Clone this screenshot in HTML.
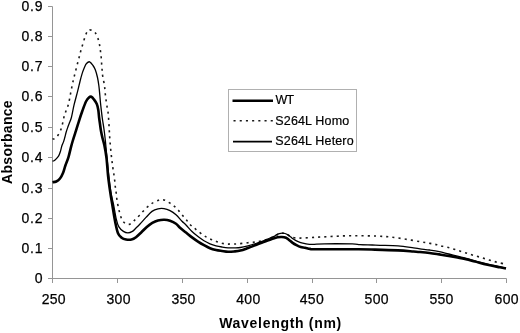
<!DOCTYPE html>
<html><head><meta charset="utf-8"><title>Absorbance spectra</title>
<style>
html,body{margin:0;padding:0;background:#fff;}
body{width:520px;height:333px;overflow:hidden;}
svg{display:block;}
.t{font-family:"Liberation Sans", Arial, sans-serif;font-size:14px;fill:#000;stroke:#000;stroke-width:0.25px;}
.b{font-family:"Liberation Sans", Arial, sans-serif;font-size:14px;font-weight:bold;fill:#000;}
.l{font-family:"Liberation Sans", Arial, sans-serif;font-size:12.5px;fill:#000;stroke:#000;stroke-width:0.2px;}
</style></head>
<body>
<svg width="520" height="333" viewBox="0 0 520 333">
<rect width="520" height="333" fill="#fff"/>
<path d="M52.5 6.5V282.5M48 278.5H506.5" stroke="#959595" stroke-width="1" fill="none"/>
<path d="M48 278.50H52.5M48 248.50H52.5M48 218.50H52.5M48 188.50H52.5M48 157.50H52.5M48 127.50H52.5M48 96.50H52.5M48 66.50H52.5M48 36.50H52.5M48 6.50H52.5M52.50 278.5V283M117.50 278.5V283M182.50 278.5V283M247.50 278.5V283M312.50 278.5V283M376.50 278.5V283M441.50 278.5V283M506.50 278.5V283" stroke="#959595" stroke-width="1" fill="none"/>
<path d="M52.50 139.00 C52.92 138.90 54.07 139.07 55.00 138.40 C55.93 137.73 57.13 136.45 58.10 135.00 C59.07 133.55 60.05 131.63 60.80 129.70 C61.55 127.77 62.07 125.52 62.60 123.40 C63.13 121.28 63.45 119.03 64.00 117.00 C64.55 114.97 65.15 113.37 65.90 111.20 C66.65 109.03 67.68 107.15 68.50 104.00 C69.32 100.85 70.02 96.20 70.80 92.30 C71.58 88.40 72.50 83.75 73.20 80.60 C73.90 77.45 74.28 76.25 75.00 73.40 C75.72 70.55 76.75 66.40 77.50 63.50 C78.25 60.60 78.88 58.37 79.50 56.00 C80.12 53.63 80.57 51.55 81.20 49.30 C81.83 47.05 82.60 44.78 83.30 42.50 C84.00 40.22 84.73 37.42 85.40 35.60 C86.07 33.78 86.65 32.55 87.30 31.60 C87.95 30.65 88.55 30.10 89.30 29.90 C90.05 29.70 90.80 29.92 91.80 30.40 C92.80 30.88 94.22 31.28 95.30 32.80 C96.38 34.32 97.55 37.25 98.30 39.50 C99.05 41.75 99.42 44.17 99.80 46.30 C100.18 48.43 100.35 50.30 100.60 52.30 C100.85 54.30 101.12 56.18 101.30 58.30 C101.48 60.42 101.55 62.88 101.70 65.00 C101.85 67.12 102.03 69.17 102.20 71.00 C102.37 72.83 102.32 73.50 102.70 76.00 C103.08 78.50 104.02 82.53 104.50 86.00 C104.98 89.47 105.15 93.18 105.60 96.80 C106.05 100.42 106.75 104.77 107.20 107.70 C107.65 110.63 107.97 110.88 108.30 114.40 C108.63 117.92 108.92 124.30 109.20 128.80 C109.48 133.30 109.63 136.83 110.00 141.40 C110.37 145.97 111.02 152.53 111.40 156.20 C111.78 159.87 112.03 161.30 112.30 163.40 C112.57 165.50 112.72 166.87 113.00 168.80 C113.28 170.73 113.70 172.90 114.00 175.00 C114.30 177.10 114.57 179.28 114.80 181.40 C115.03 183.52 115.17 185.77 115.40 187.70 C115.63 189.63 115.92 190.82 116.20 193.00 C116.48 195.18 116.65 198.00 117.10 200.80 C117.55 203.60 118.15 206.80 118.90 209.80 C119.65 212.80 120.55 216.55 121.60 218.80 C122.65 221.05 123.85 222.40 125.20 223.30 C126.55 224.20 128.20 224.65 129.70 224.20 C131.20 223.75 132.55 222.10 134.20 220.60 C135.85 219.10 137.63 217.27 139.60 215.20 C141.57 213.13 143.93 210.17 146.00 208.20 C148.07 206.23 149.90 204.72 152.00 203.40 C154.10 202.08 156.93 200.88 158.60 200.30 C160.27 199.72 160.90 199.88 162.00 199.90 C163.10 199.92 163.65 199.72 165.20 200.40 C166.75 201.08 169.38 202.67 171.30 204.00 C173.22 205.33 175.00 206.70 176.70 208.40 C178.40 210.10 179.90 212.30 181.50 214.20 C183.10 216.10 184.80 218.00 186.30 219.80 C187.80 221.60 188.95 223.43 190.50 225.00 C192.05 226.57 193.62 227.60 195.60 229.20 C197.58 230.80 200.30 233.13 202.40 234.60 C204.50 236.07 206.22 236.98 208.20 238.00 C210.18 239.02 212.28 239.90 214.30 240.70 C216.32 241.50 218.30 242.25 220.30 242.80 C222.30 243.35 224.30 243.80 226.30 244.00 C228.30 244.20 230.30 244.03 232.30 244.00 C234.30 243.97 235.68 244.02 238.30 243.80 C240.92 243.58 245.08 243.00 248.00 242.70 C250.92 242.40 253.22 242.38 255.80 242.00 C258.38 241.62 260.93 241.07 263.50 240.40 C266.07 239.73 269.28 238.73 271.20 238.00 C273.12 237.27 273.65 236.72 275.00 236.00 C276.35 235.28 278.12 234.17 279.30 233.70 C280.48 233.23 281.15 233.23 282.10 233.20 C283.05 233.17 284.02 233.20 285.00 233.50 C285.98 233.80 287.00 234.45 288.00 235.00 C289.00 235.55 289.93 236.33 291.00 236.80 C292.07 237.27 292.90 237.58 294.40 237.80 C295.90 238.02 296.50 238.18 300.00 238.10 C303.50 238.02 310.27 237.57 315.40 237.30 C320.53 237.03 325.67 236.75 330.80 236.50 C335.93 236.25 341.08 235.92 346.20 235.80 C351.32 235.68 356.38 235.75 361.50 235.80 C366.62 235.85 372.08 235.90 376.90 236.10 C381.72 236.30 385.58 236.48 390.40 237.00 C395.22 237.52 400.67 238.38 405.80 239.20 C410.93 240.02 417.15 241.20 421.20 241.90 C425.25 242.60 427.50 242.93 430.10 243.40 C432.70 243.87 434.72 244.22 436.80 244.70 C438.88 245.18 440.52 245.78 442.60 246.30 C444.68 246.82 447.22 247.25 449.30 247.80 C451.38 248.35 453.10 248.98 455.10 249.60 C457.10 250.22 459.28 250.87 461.30 251.50 C463.32 252.13 465.22 252.77 467.20 253.40 C469.18 254.03 471.12 254.68 473.20 255.30 C475.28 255.92 477.60 256.48 479.70 257.10 C481.80 257.72 483.78 258.38 485.80 259.00 C487.82 259.62 489.78 260.22 491.80 260.80 C493.82 261.38 495.73 261.97 497.90 262.50 C500.07 263.03 503.45 263.70 504.80 264.00 C506.15 264.30 505.80 264.25 506.00 264.30" stroke="#1a1a1a" stroke-width="1.6" stroke-dasharray="2.1 4.1" fill="none"/>
<path d="M52.50 161.20 C52.75 161.13 53.35 161.23 54.00 160.80 C54.65 160.37 55.60 159.47 56.40 158.60 C57.20 157.73 58.13 156.78 58.80 155.60 C59.47 154.42 59.88 153.13 60.40 151.50 C60.92 149.87 61.37 147.45 61.90 145.80 C62.43 144.15 63.10 143.07 63.60 141.60 C64.10 140.13 64.47 138.60 64.90 137.00 C65.33 135.40 65.72 133.63 66.20 132.00 C66.68 130.37 67.30 128.62 67.80 127.20 C68.30 125.78 68.60 125.12 69.20 123.50 C69.80 121.88 70.60 120.55 71.40 117.50 C72.20 114.45 72.97 109.55 74.00 105.20 C75.03 100.85 76.58 95.43 77.60 91.40 C78.62 87.37 79.33 84.00 80.10 81.00 C80.87 78.00 81.48 75.65 82.20 73.40 C82.92 71.15 83.68 69.15 84.40 67.50 C85.12 65.85 85.63 64.45 86.50 63.50 C87.37 62.55 88.52 61.47 89.60 61.80 C90.68 62.13 92.05 64.17 93.00 65.50 C93.95 66.83 94.55 67.80 95.30 69.80 C96.05 71.80 96.90 74.80 97.50 77.50 C98.10 80.20 98.52 83.08 98.90 86.00 C99.28 88.92 99.53 92.17 99.80 95.00 C100.07 97.83 100.25 100.50 100.50 103.00 C100.75 105.50 100.98 107.33 101.30 110.00 C101.62 112.67 101.93 115.67 102.40 119.00 C102.87 122.33 103.60 126.33 104.10 130.00 C104.60 133.67 104.92 136.33 105.40 141.00 C105.88 145.67 106.43 152.17 107.00 158.00 C107.57 163.83 108.17 170.37 108.80 176.00 C109.43 181.63 110.02 187.07 110.80 191.80 C111.58 196.53 112.60 199.90 113.50 204.40 C114.40 208.90 115.30 215.05 116.20 218.80 C117.10 222.55 117.70 224.80 118.90 226.90 C120.10 229.00 121.90 230.40 123.40 231.40 C124.90 232.40 126.40 232.90 127.90 232.90 C129.40 232.90 131.05 232.22 132.40 231.40 C133.75 230.58 134.73 229.23 136.00 228.00 C137.27 226.77 138.33 225.77 140.00 224.00 C141.67 222.23 144.00 219.50 146.00 217.40 C148.00 215.30 150.00 212.83 152.00 211.40 C154.00 209.97 156.00 209.27 158.00 208.80 C160.00 208.33 162.00 208.30 164.00 208.60 C166.00 208.90 168.00 209.57 170.00 210.60 C172.00 211.63 174.00 213.03 176.00 214.80 C178.00 216.57 180.33 219.50 182.00 221.20 C183.67 222.90 184.33 223.28 186.00 225.00 C187.67 226.72 190.00 229.57 192.00 231.50 C194.00 233.43 196.00 235.05 198.00 236.60 C200.00 238.15 202.00 239.60 204.00 240.80 C206.00 242.00 208.00 242.97 210.00 243.80 C212.00 244.63 214.00 245.27 216.00 245.80 C218.00 246.33 220.00 246.67 222.00 247.00 C224.00 247.33 226.00 247.67 228.00 247.80 C230.00 247.93 231.93 247.85 234.00 247.80 C236.07 247.75 238.07 247.83 240.40 247.50 C242.73 247.17 245.43 246.47 248.00 245.80 C250.57 245.13 253.22 244.33 255.80 243.50 C258.38 242.67 261.13 241.72 263.50 240.80 C265.87 239.88 268.22 238.73 270.00 238.00 C271.78 237.27 273.13 236.93 274.20 236.40 C275.27 235.87 275.55 235.25 276.40 234.80 C277.25 234.35 278.35 233.97 279.30 233.70 C280.25 233.43 281.15 233.23 282.10 233.20 C283.05 233.17 284.03 233.22 285.00 233.50 C285.97 233.78 286.93 234.30 287.90 234.90 C288.87 235.50 289.83 236.37 290.80 237.10 C291.77 237.83 292.75 238.67 293.70 239.30 C294.65 239.93 295.33 240.35 296.50 240.90 C297.67 241.45 299.28 242.15 300.70 242.60 C302.12 243.05 303.07 243.30 305.00 243.60 C306.93 243.90 309.03 244.37 312.30 244.40 C315.57 244.43 317.93 243.88 324.60 243.80 C331.27 243.72 346.40 243.77 352.30 243.90 C358.20 244.03 356.67 244.42 360.00 244.60 C363.33 244.78 368.97 244.88 372.30 245.00 C375.63 245.12 375.72 245.17 380.00 245.30 C384.28 245.43 392.42 245.38 398.00 245.80 C403.58 246.22 409.83 247.30 413.50 247.80 C417.17 248.30 417.32 248.43 420.00 248.80 C422.68 249.17 426.40 249.53 429.60 250.00 C432.80 250.47 436.00 250.93 439.20 251.60 C442.40 252.27 445.58 253.22 448.80 254.00 C452.02 254.78 455.63 255.58 458.50 256.30 C461.37 257.02 463.25 257.55 466.00 258.30 C468.75 259.05 471.42 259.82 475.00 260.80 C478.58 261.78 483.33 263.18 487.50 264.20 C491.67 265.22 496.92 266.25 500.00 266.90 C503.08 267.55 505.00 267.90 506.00 268.10" stroke="#000" stroke-width="1.3" fill="none" stroke-linejoin="round"/>
<path d="M52.50 182.20 C53.13 182.08 55.05 182.12 56.30 181.50 C57.55 180.88 58.88 179.92 60.00 178.50 C61.12 177.08 62.10 175.17 63.00 173.00 C63.90 170.83 64.50 168.10 65.40 165.50 C66.30 162.90 67.50 160.35 68.40 157.40 C69.30 154.45 70.08 150.53 70.80 147.80 C71.52 145.07 71.93 143.57 72.70 141.00 C73.47 138.43 74.38 135.63 75.40 132.40 C76.42 129.17 77.63 125.20 78.80 121.60 C79.97 118.00 81.20 114.15 82.40 110.80 C83.60 107.45 84.90 103.72 86.00 101.50 C87.10 99.28 88.10 98.28 89.00 97.50 C89.90 96.72 90.57 96.47 91.40 96.80 C92.23 97.13 93.10 98.30 94.00 99.50 C94.90 100.70 96.08 102.25 96.80 104.00 C97.52 105.75 97.92 107.75 98.30 110.00 C98.68 112.25 98.82 115.17 99.10 117.50 C99.38 119.83 99.68 121.75 100.00 124.00 C100.32 126.25 100.57 128.58 101.00 131.00 C101.43 133.42 102.05 136.17 102.60 138.50 C103.15 140.83 103.65 141.75 104.30 145.00 C104.95 148.25 105.87 152.83 106.50 158.00 C107.13 163.17 107.48 170.37 108.10 176.00 C108.72 181.63 109.47 186.80 110.20 191.80 C110.93 196.80 111.65 200.90 112.50 206.00 C113.35 211.10 114.38 217.87 115.30 222.40 C116.22 226.93 116.95 230.65 118.00 233.20 C119.05 235.75 120.25 236.65 121.60 237.70 C122.95 238.75 124.45 239.20 126.10 239.50 C127.75 239.80 129.85 239.88 131.50 239.50 C133.15 239.12 134.35 238.40 136.00 237.20 C137.65 236.00 139.60 234.02 141.40 232.30 C143.20 230.58 144.98 228.48 146.80 226.90 C148.62 225.32 150.43 223.88 152.30 222.80 C154.17 221.72 155.98 220.92 158.00 220.40 C160.02 219.88 162.40 219.63 164.40 219.70 C166.40 219.77 168.07 220.12 170.00 220.80 C171.93 221.48 174.33 222.63 176.00 223.80 C177.67 224.97 178.33 226.33 180.00 227.80 C181.67 229.27 184.00 231.00 186.00 232.60 C188.00 234.20 190.00 235.90 192.00 237.40 C194.00 238.90 196.00 240.30 198.00 241.60 C200.00 242.90 202.00 244.10 204.00 245.20 C206.00 246.30 208.00 247.40 210.00 248.20 C212.00 249.00 214.00 249.53 216.00 250.00 C218.00 250.47 220.00 250.70 222.00 251.00 C224.00 251.30 226.00 251.72 228.00 251.80 C230.00 251.88 231.93 251.70 234.00 251.50 C236.07 251.30 238.07 251.18 240.40 250.60 C242.73 250.02 245.43 248.93 248.00 248.00 C250.57 247.07 253.22 246.00 255.80 245.00 C258.38 244.00 261.27 242.83 263.50 242.00 C265.73 241.17 267.55 240.60 269.20 240.00 C270.85 239.40 272.00 238.85 273.40 238.40 C274.80 237.95 276.20 237.53 277.60 237.30 C279.00 237.07 280.40 236.92 281.80 237.00 C283.20 237.08 284.78 237.30 286.00 237.80 C287.22 238.30 288.05 239.20 289.10 240.00 C290.15 240.80 291.07 241.73 292.30 242.60 C293.53 243.47 295.10 244.45 296.50 245.20 C297.90 245.95 299.28 246.67 300.70 247.10 C302.12 247.53 303.45 247.50 305.00 247.80 C306.55 248.10 308.27 248.65 310.00 248.90 C311.73 249.15 307.32 249.23 315.40 249.30 C323.48 249.37 348.57 249.25 358.50 249.30 C368.43 249.35 368.42 249.42 375.00 249.60 C381.58 249.78 391.58 250.08 398.00 250.40 C404.42 250.72 409.83 251.23 413.50 251.50 C417.17 251.77 417.32 251.75 420.00 252.00 C422.68 252.25 426.40 252.60 429.60 253.00 C432.80 253.40 436.00 253.92 439.20 254.40 C442.40 254.88 445.58 255.33 448.80 255.90 C452.02 256.47 455.63 257.23 458.50 257.80 C461.37 258.37 463.25 258.67 466.00 259.30 C468.75 259.93 471.42 260.68 475.00 261.60 C478.58 262.52 483.33 263.85 487.50 264.80 C491.67 265.75 496.92 266.68 500.00 267.30 C503.08 267.92 505.00 268.30 506.00 268.50" stroke="#000" stroke-width="2.6" fill="none" stroke-linejoin="round"/>
<text x="43.4" y="283.00" text-anchor="end" class="t" letter-spacing="0.8">0</text>
<text x="43.4" y="253.00" text-anchor="end" class="t" letter-spacing="0.8">0.1</text>
<text x="43.4" y="223.00" text-anchor="end" class="t" letter-spacing="0.8">0.2</text>
<text x="43.4" y="193.00" text-anchor="end" class="t" letter-spacing="0.8">0.3</text>
<text x="43.4" y="162.00" text-anchor="end" class="t" letter-spacing="0.8">0.4</text>
<text x="43.4" y="132.00" text-anchor="end" class="t" letter-spacing="0.8">0.5</text>
<text x="43.4" y="101.00" text-anchor="end" class="t" letter-spacing="0.8">0.6</text>
<text x="43.4" y="71.00" text-anchor="end" class="t" letter-spacing="0.8">0.7</text>
<text x="43.4" y="41.00" text-anchor="end" class="t" letter-spacing="0.8">0.8</text>
<text x="43.4" y="11.00" text-anchor="end" class="t" letter-spacing="0.8">0.9</text>
<text x="53.80" y="304" text-anchor="middle" class="t" letter-spacing="0.3">250</text>
<text x="118.65" y="304" text-anchor="middle" class="t" letter-spacing="0.3">300</text>
<text x="183.55" y="304" text-anchor="middle" class="t" letter-spacing="0.3">350</text>
<text x="248.35" y="304" text-anchor="middle" class="t" letter-spacing="0.3">400</text>
<text x="311.85" y="304" text-anchor="middle" class="t" letter-spacing="0.3">450</text>
<text x="376.75" y="304" text-anchor="middle" class="t" letter-spacing="0.3">500</text>
<text x="441.55" y="304" text-anchor="middle" class="t" letter-spacing="0.3">550</text>
<text x="506.75" y="304" text-anchor="middle" class="t" letter-spacing="0.3">600</text>
<text x="280.6" y="328" text-anchor="middle" class="b" letter-spacing="0.7">Wavelength (nm)</text>
<text transform="translate(11.5 142) rotate(-90)" text-anchor="middle" class="b" letter-spacing="0.3">Absorbance</text>
<rect x="228.5" y="89.5" width="128" height="62" fill="#fff" stroke="#b0b0b0" stroke-width="1"/>
<path d="M232.5 100.8H273" stroke="#000" stroke-width="2.6"/>
<path d="M233.5 120.7H273" stroke="#1a1a1a" stroke-width="1.6" stroke-dasharray="2.1 4.1"/>
<path d="M233 141.6H272" stroke="#000" stroke-width="1.6"/>
<text x="275.5" y="104" class="l" letter-spacing="-0.9">WT</text>
<text x="275.3" y="124.5" class="l" letter-spacing="0.15">S264L Homo</text>
<text x="275.3" y="145" class="l" letter-spacing="0.15">S264L Hetero</text>
</svg>
</body></html>
